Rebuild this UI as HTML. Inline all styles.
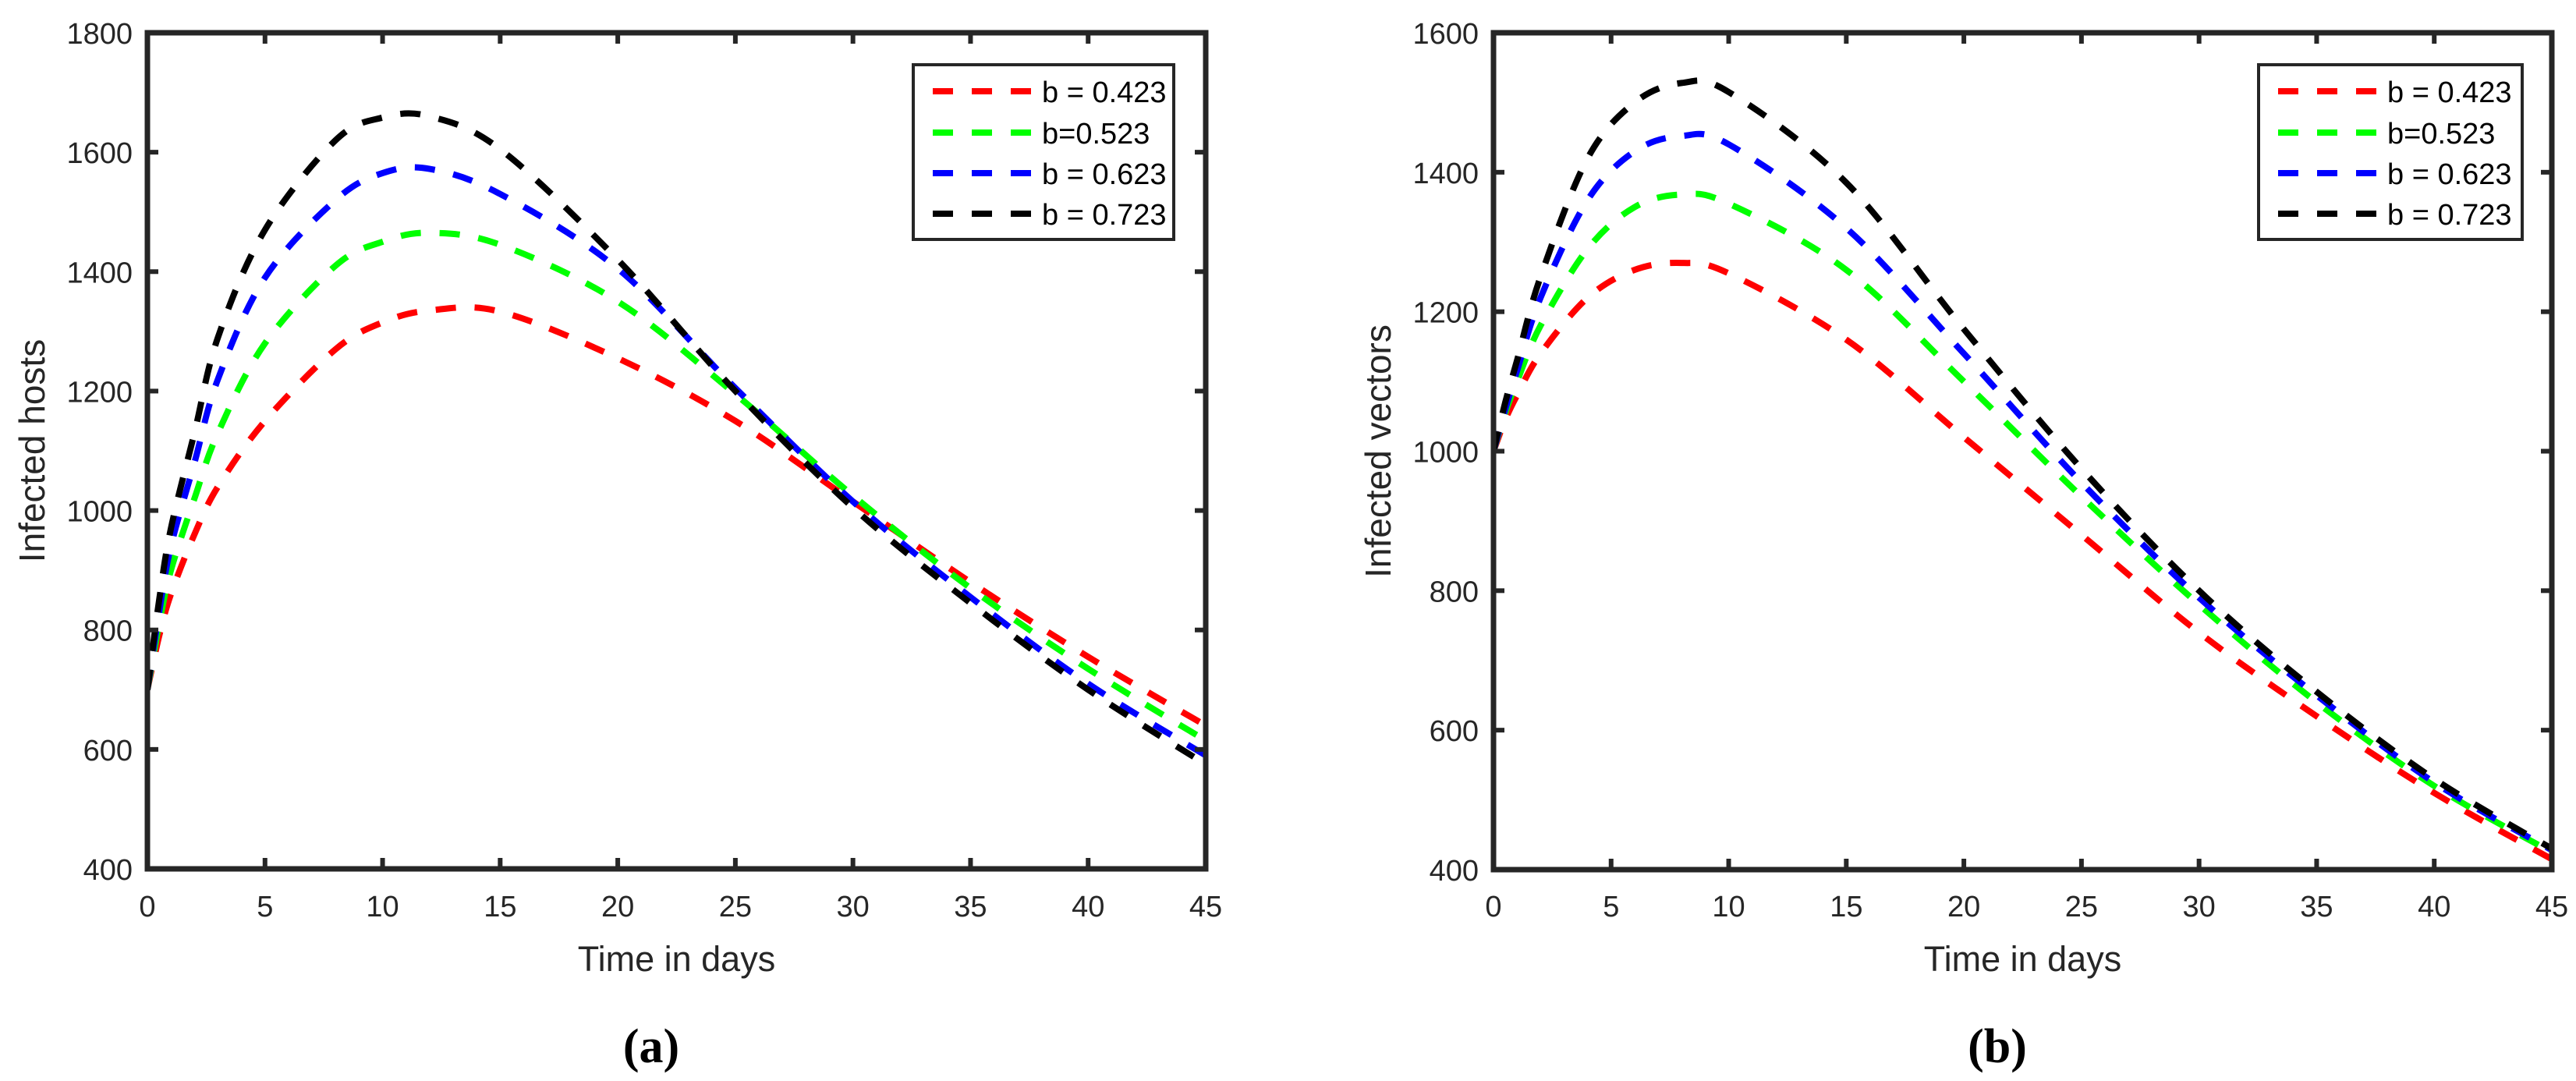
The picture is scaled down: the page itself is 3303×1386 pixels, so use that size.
<!DOCTYPE html>
<html><head><meta charset="utf-8"><style>
html,body{margin:0;padding:0;background:#fff;}
svg{display:block;}
text{font-family:"Liberation Sans",sans-serif;fill:#262626;}
</style></head><body>
<svg id="fig" width="3303" height="1386" viewBox="0 0 3303 1386" xmlns="http://www.w3.org/2000/svg"></svg>
<script>
const NS="http://www.w3.org/2000/svg";
const svg=document.getElementById('fig');
const xTicks=[0,5,10,15,20,25,30,35,40,45];
const yTicksA=[400,600,800,1000,1200,1400,1600,1800];
const yTicksB=[400,600,800,1000,1200,1400,1600];
const seriesLabels=["b = 0.423","b=0.523","b = 0.623","b = 0.723"];
const seriesColors=["#ff0000","#00ff00","#0000ff","#000000"];
const tA=[0,0.5,1,2,3,5,8,10,12,15,20,25,30,35,40,45];
const redA=[700,790,860,960,1040,1150,1270,1315,1335,1333,1255,1150,1015,880,755,640];
const greenA=[700,810,900,1020,1130,1280,1410,1450,1465,1445,1350,1195,1025,870,735,615];
const blueA=[700,830,940,1080,1220,1390,1520,1565,1572,1530,1405,1205,1015,855,710,590];
const blackA=[700,850,970,1130,1290,1470,1620,1658,1660,1605,1420,1200,1005,845,700,575];
const tB=[0,0.5,1,2,4,6,8,10,15,20,25,30,35,40,45];
const redB=[1000,1045,1080,1140,1220,1260,1270,1255,1160,1020,880,740,620,510,415];
const greenB=[1000,1055,1100,1180,1290,1350,1368,1355,1260,1100,935,780,640,520,425];
const blueB=[1000,1060,1115,1220,1360,1430,1452,1440,1320,1140,955,790,650,525,428];
const blackB=[1000,1070,1130,1250,1420,1500,1528,1515,1385,1175,975,800,655,530,430];

function el(tag,attrs,parent){const e=document.createElementNS(NS,tag);for(const k in attrs)e.setAttribute(k,attrs[k]);(parent||svg).appendChild(e);return e;}
function smooth(pts){let d=`M${pts[0][0]},${pts[0][1]}`;for(let i=0;i<pts.length-1;i++){const p0=pts[Math.max(0,i-1)],p1=pts[i],p2=pts[i+1],p3=pts[Math.min(pts.length-1,i+2)];const c1=[p1[0]+(p2[0]-p0[0])/6,p1[1]+(p2[1]-p0[1])/6];const c2=[p2[0]-(p3[0]-p1[0])/6,p2[1]-(p3[1]-p1[1])/6];d+=` C${c1[0]},${c1[1]} ${c2[0]},${c2[1]} ${p2[0]},${p2[1]}`;}return d;}

function panel(id,L,R,T,B,ymin,ymax,yTicks,ts,series,ylabel,lx,legX,legW,cap,capX){
  const g=el('g',{});
  
  
  const xs=v=>L+(v-0)/(45-0)*(R-L);
  const ys=v=>B-(v-ymin)/(ymax-ymin)*(B-T);
  const clip=el('clipPath',{id:'clip'+id},g);el('rect',{x:L,y:T,width:R-L,height:B-T},clip);
  series.forEach((vals,si)=>{
    const p=el('path',{d:smooth(ts.map((t,i)=>[xs(t),ys(vals[i])])),fill:'none',stroke:seriesColors[si],'stroke-width':8,'stroke-dasharray':'26 24','clip-path':`url(#clip${id})`},g);
    
    
  });
  const ax=el('rect',{x:L,y:T,width:R-L,height:B-T,fill:'none',stroke:'#262626','stroke-width':7},g);
  
  
  xTicks.forEach(v=>{const x=xs(v);
    el('line',{x1:x,y1:B,x2:x,y2:B-14,stroke:'#262626','stroke-width':6},g);
    el('line',{x1:x,y1:T,x2:x,y2:T+14,stroke:'#262626','stroke-width':6},g);
    const t=el('text',{x:x,y:1175,'font-size':38,'text-anchor':'middle'},g);t.textContent=v;
    
    
  });
  yTicks.forEach(v=>{const y=ys(v);
    el('line',{x1:L,y1:y,x2:L+14,y2:y,stroke:'#262626','stroke-width':6},g);
    el('line',{x1:R,y1:y,x2:R-14,y2:y,stroke:'#262626','stroke-width':6},g);
    const t=el('text',{x:L-19,y:y+14,'font-size':38,'text-anchor':'end'},g);t.textContent=v;
    
    
  });
  const xt=el('text',{x:(L+R)/2,y:1245,'font-size':45,'text-anchor':'middle'},g);xt.textContent='Time in days';
  
  
  const yt=el('text',{x:0,y:0,'font-size':46,'text-anchor':'middle',transform:`translate(${lx},${(T+B)/2}) rotate(-90)`},g);yt.textContent=ylabel;yt.setAttribute('xml:space','preserve');
  
  
  const lg=el('g',{},g);
  
  
  el('rect',{x:legX,y:83,width:legW,height:224,fill:'#fff',stroke:'#262626','stroke-width':4},lg);
  const rows=[117,170,222,274];
  seriesLabels.forEach((s,i)=>{
    const e=el('g',{},lg);
    
    
    [0,50,100].forEach(o=>el('rect',{x:legX+25+o,y:rows[i]-4,width:26,height:8,fill:seriesColors[i]},e));
    const t=el('text',{x:legX+165,y:rows[i]+14,'font-size':38},e);t.textContent=s;t.style.fill='#000';
  });
  const c=el('text',{x:capX,y:1362,'font-size':62,'text-anchor':'middle','font-weight':'bold'},g);
  c.style.fontFamily='"Liberation Serif",serif';c.style.fill='#000';c.textContent=cap;
  
  
}
panel('a',189,1546,42,1114,400,1800,yTicksA,tA,[redA,greenA,blueA,blackA],'Infected  hosts',57,1171,334,'(a)',835);
panel('b',1915,3272,42,1115,400,1600,yTicksB,tB,[redB,greenB,blueB,blackB],'Infected vectors',1783,2896,338,'(b)',2561);
</script>
</body></html>
